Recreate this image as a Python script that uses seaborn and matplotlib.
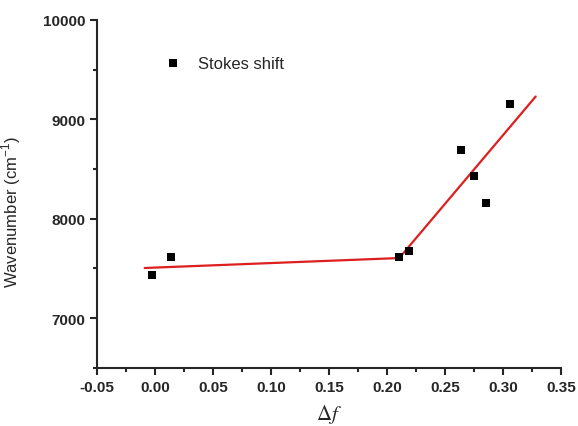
import numpy as np
import pandas as pd
import matplotlib
matplotlib.use('Agg')
import matplotlib.pyplot as plt
import seaborn as sns
from matplotlib.ticker import MultipleLocator

sns.set_style('ticks')
plt.rcParams['font.family'] = ['Liberation Sans', 'DejaVu Sans']
plt.rcParams['mathtext.fontset'] = 'stix'

# Stokes shift data
delta_f = [-0.003, 0.014, 0.210, 0.219, 0.264, 0.275, 0.285, 0.306]
wavenumber = [7433, 7618, 7612, 7675, 8692, 8433, 8155, 9158]

# two linear fits
fit1_x = [-0.009, 0.210]
fit1_y = [7505, 7605]
fit2_x = [0.210, 0.328]
fit2_y = [7600, 9230]

df = pd.DataFrame({'df': delta_f, 'wn': wavenumber})

fig = plt.figure(figsize=(5.78, 4.27), dpi=100)
ax = fig.add_axes([0.168, 0.136, 0.803, 0.815])

sns.lineplot(x=fit1_x, y=fit1_y, color='#dc1f1f', lw=1.6, ax=ax)
sns.lineplot(x=fit2_x, y=fit2_y, color='#dc1f1f', lw=1.6, ax=ax)
sns.scatterplot(data=df, x='df', y='wn', marker='s', s=36, color='black',
                edgecolor='black', linewidth=0, ax=ax, label='Stokes shift', zorder=3)

ax.set_xlim(-0.05, 0.35)
ax.set_ylim(6500, 10000)
ax.set_xticks(np.arange(-0.05, 0.351, 0.05))
ax.set_xticklabels([f'{v:.2f}' for v in np.arange(-0.05, 0.351, 0.05)])
ax.set_yticks([7000, 8000, 9000, 10000])
ax.xaxis.set_minor_locator(MultipleLocator(0.025))
ax.yaxis.set_minor_locator(MultipleLocator(500))

for s in ['top', 'right']:
    ax.spines[s].set_visible(False)
for s in ['left', 'bottom']:
    ax.spines[s].set_linewidth(1.5)
ax.tick_params(which='major', length=5, width=1.5, direction='out', labelsize=11)
ax.tick_params(which='minor', length=3, width=1.5, direction='out')
for lab in ax.get_xticklabels() + ax.get_yticklabels():
    lab.set_fontweight('bold')

ax.set_xlabel(r'$\Delta f$', fontsize=15, labelpad=6)
ax.set_ylabel(r'Wavenumber (cm$^{\mathregular{-1}}$)', fontsize=12)
ax.yaxis.set_label_coords(-0.16, 0.45)

ax.legend(loc='upper left', bbox_to_anchor=(0.095, 0.94), frameon=False,
          fontsize=12, handletextpad=0.5, markerscale=0.9)

fig.savefig('out.png', dpi=100)
